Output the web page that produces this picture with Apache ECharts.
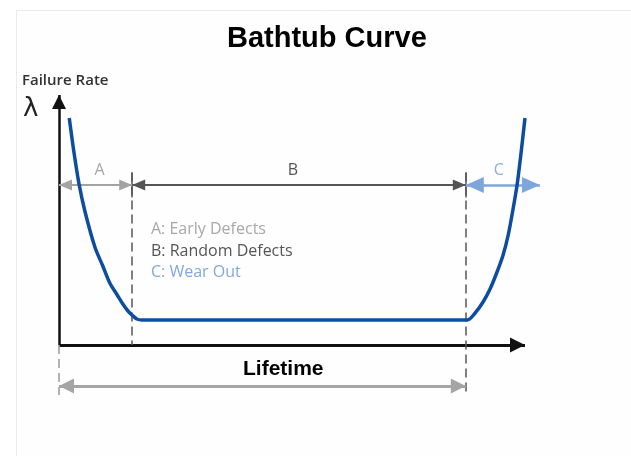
<!DOCTYPE html>
<html>
<head>
<meta charset="utf-8">
<script src="https://cdn.jsdelivr.net/npm/echarts@6/dist/echarts.min.js"></script>
<style>
  html, body { margin: 0; padding: 0; background: #fff; }
  #container { width: 631px; height: 456px; }
</style>
</head>
<body>
<div id="container"></div>
<script>
// bathtub curve, lifetime 0-100, failure rate 0-100 (arbitrary units)
var lifetime = [2.2, 3.2, 4.3, 5.6, 7.7, 9.4, 10.9, 12.5, 13.7, 14.8, 15.9, 16.7, 17.8,
                30, 50, 70, 87.6, 89.3, 91.0, 92.5, 94.0, 95.3, 96.4, 97.4, 98.3, 99.1, 100];
var failureRate = [90.8, 77.2, 64.4, 53.2, 39.2, 31.6, 24.8, 20, 16.4, 13.6, 11.6, 10.4, 10,
                   10, 10, 10, 10, 12.8, 17.2, 22.4, 29.2, 36, 44, 54, 64, 76, 90.8];

// phase boundaries on the lifetime axis
var earlyEnd = 15.7;
var wearStart = 87.3;
var wearArrowEnd = 103.2;
var arrowRow = 64;
var lifetimeRow = -16.4;

var phaseLabels = ['A', 'B', 'C'];
var legendLines = ['A: Early Defects', 'B: Random Defects', 'C: Wear Out'];

var myChart = echarts.init(document.getElementById('container'));

var curve = lifetime.map(function (x, i) { return [x, failureRate[i]]; });

function arrowLabel(txt, color, pad) {
    return {
        show: true,
        formatter: txt,
        position: 'middle',
        distance: 7,
        padding: pad,
        color: color,
        fontSize: 16,
        fontFamily: 'Open Sans'
    };
}

// arrow head whose tip sits on the end point
function head(size) {
    return { symbol: 'triangle', symbolSize: size, symbolOffset: [0, '50%'] };
}

function seg(from, to, lineStyle, fromHead, toHead, label) {
    var a = { coord: from, lineStyle: lineStyle, symbol: 'none' };
    var b = { coord: to, symbol: 'none' };
    if (fromHead) { Object.assign(a, head(fromHead)); }
    if (toHead) { Object.assign(b, head(toHead)); }
    if (label) { a.label = label; }
    return [a, b];
}

var dashed = { color: '#555', width: 1.5, type: [9, 5] };
var tick = { color: '#555', width: 1.5, type: 'solid' };

var option = {
    backgroundColor: '#ffffff',
    animation: false,
    graphic: [{
        type: 'rect',
        silent: true,
        z: -10,
        shape: { x: 16.5, y: 10.5, width: 620, height: 450 },
        style: { fill: '#fefefe', stroke: '#ebebeb', lineWidth: 1 }
    }],
    title: [{
        text: 'Bathtub Curve',
        left: 227,
        top: 24,
        padding: 0,
        textStyle: { fontFamily: 'Liberation Sans', fontSize: 29, fontWeight: 'bold', color: '#000' }
    }, {
        text: 'Failure Rate',
        left: 22,
        top: 73,
        padding: 0,
        textStyle: { fontFamily: 'Open Sans', fontSize: 15, fontWeight: 600, color: '#333' }
    }, {
        text: 'λ',
        left: 23,
        top: 96,
        padding: 0,
        textStyle: { fontFamily: 'DejaVu Sans', fontSize: 26, fontWeight: 'normal', color: '#222' }
    }, {
        text: 'Lifetime',
        left: 243,
        top: 359,
        padding: 0,
        textStyle: { fontFamily: 'Liberation Sans', fontSize: 21, fontWeight: 'bold', color: '#000' }
    }, {
        text: legendLines[0],
        left: 151,
        top: 221,
        padding: 0,
        textStyle: { fontFamily: 'Open Sans', fontSize: 16, fontWeight: 'normal', color: '#a8a8a8' }
    }, {
        text: legendLines[1],
        left: 151,
        top: 243,
        padding: 0,
        textStyle: { fontFamily: 'Open Sans', fontSize: 16, fontWeight: 'normal', color: '#555' }
    }, {
        text: legendLines[2],
        left: 151,
        top: 264,
        padding: 0,
        textStyle: { fontFamily: 'Open Sans', fontSize: 16, fontWeight: 'normal', color: '#82a8dc' }
    }],
    grid: { left: 35.7, right: 82.7, top: 82.5, bottom: 48.5 },
    xAxis: { type: 'value', min: -5, max: 105, show: false },
    yAxis: { type: 'value', min: -25, max: 105, show: false },
    series: [{
        type: 'line',
        data: curve,
        smooth: 0.3,
        showSymbol: false,
        symbol: 'none',
        z: 5,
        lineStyle: { color: '#0c4da2', width: 3.5 },
        markLine: {
            silent: true,
            animation: false,
            symbol: ['none', 'none'],
            label: { show: false },
            emphasis: { disabled: true },
            data: [
                // axes
                seg([0, 0], [0, 100], { color: '#111', width: 2.5, type: 'solid' }, null, [14, 14]),
                seg([0, 0], [100, 0], { color: '#111', width: 3, type: 'solid' }, null, [15, 15]),
                // phase boundaries
                seg([earlyEnd, 69], [earlyEnd, 0], dashed),
                seg([wearStart, 69], [wearStart, -20], dashed),
                seg([0, 0], [0, -20], { color: '#999', width: 1.5, type: [9, 5] }),
                seg([earlyEnd, 69], [earlyEnd, 59], tick),
                seg([wearStart, 69], [wearStart, 59], tick),
                // phase arrows
                seg([0, arrowRow], [earlyEnd, arrowRow], { color: '#a3a3a3', width: 2, type: 'solid' },
                    [11, 13], [11, 13], arrowLabel(phaseLabels[0], '#a8a8a8', [0, 0, 0, 8])),
                seg([earlyEnd, arrowRow], [wearStart, arrowRow], { color: '#555', width: 2, type: 'solid' },
                    [11, 13], [11, 13], arrowLabel(phaseLabels[1], '#555', [0, 12, 0, 0])),
                seg([wearStart, arrowRow], [wearArrowEnd, arrowRow], { color: '#7fa6dc', width: 2.5, type: 'solid' },
                    [16, 18], [16, 18], arrowLabel(phaseLabels[2], '#8aaee0', [0, 8, 0, 0])),
                // lifetime span
                seg([0, lifetimeRow], [wearStart, lifetimeRow], { color: '#a5a5a5', width: 3, type: 'solid' },
                    [15, 15], [15, 15])
            ]
        }
    }]
};

myChart.setOption(option);
</script>
</body>
</html>
